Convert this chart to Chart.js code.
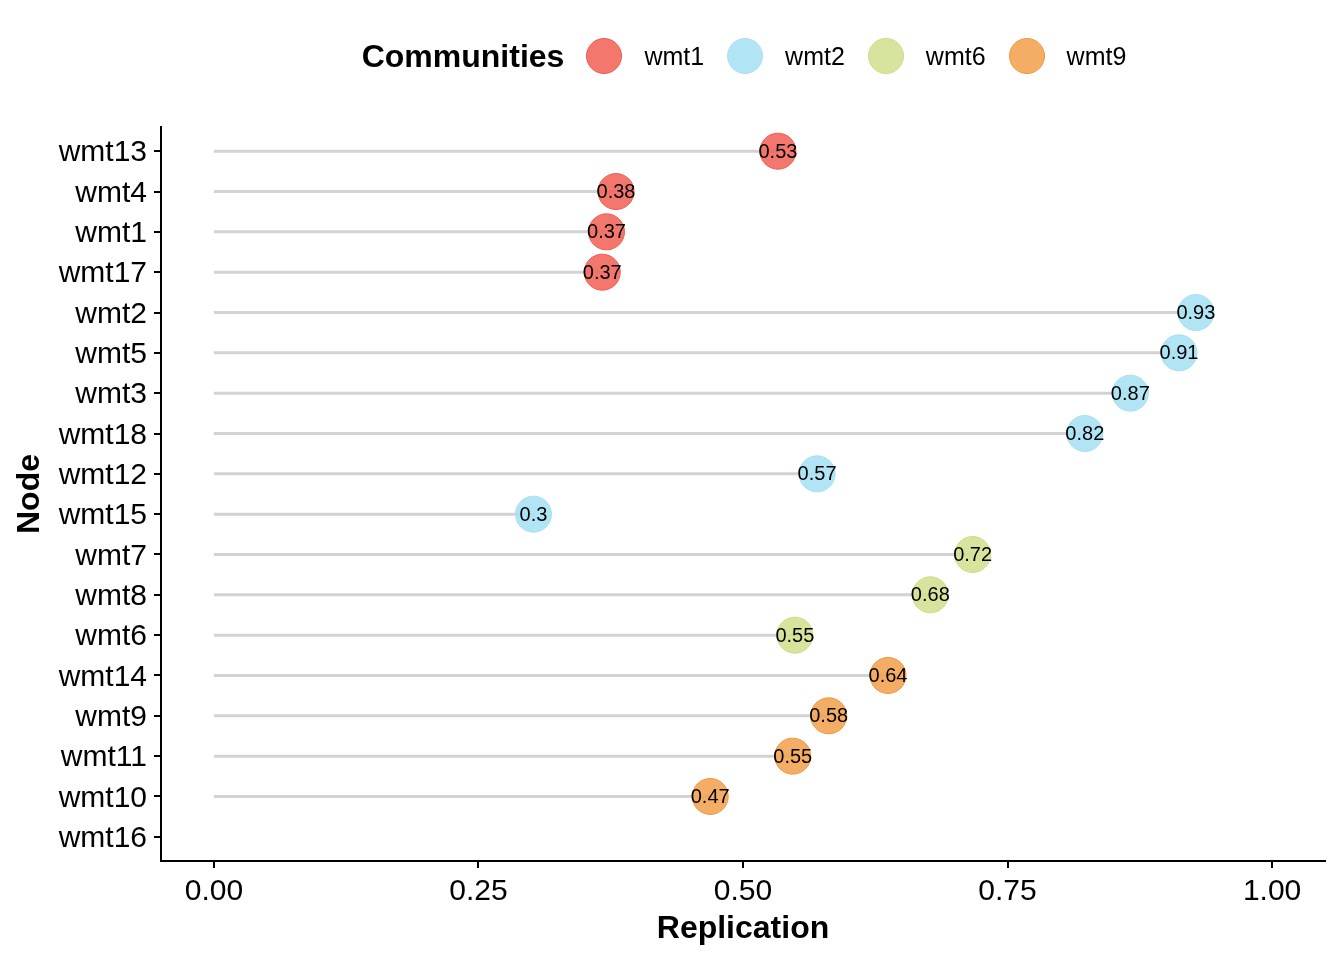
<!DOCTYPE html>
<html>
<head>
<meta charset="utf-8">
<script src="https://cdn.jsdelivr.net/npm/chart.js@4.4.1/dist/chart.umd.min.js"></script>
<style>
    body { margin: 0; background: #fff; }
    #wrap { position: relative; width: 1344px; height: 960px; }
    #legenda {
        position: absolute; top: 36px; left: 161px; width: 1166px; height: 40px;
        display: flex; align-items: center; justify-content: center;
        font-family: "Liberation Sans", Arial, sans-serif; color: #000;
    }
    #legenda .titulo { font-weight: bold; font-size: 32px; margin-right: 22px; }
    #legenda .bola { width: 36px; height: 36px; border-radius: 50%; box-sizing: border-box; border: 1px solid; }
    #legenda .nome { font-size: 25px; margin-left: 22px; margin-right: 23px; }
    #legenda .nome:last-child { margin-right: 0; }
</style>
</head>
<body>
<div id="wrap">
    <div id="legenda"></div>
    <canvas id="lollipop" width="1344" height="960"></canvas>
</div>
<script>
// dados
const nodes = ['wmt13', 'wmt4', 'wmt1', 'wmt17', 'wmt2', 'wmt5', 'wmt3', 'wmt18', 'wmt12',
    'wmt15', 'wmt7', 'wmt8', 'wmt6', 'wmt14', 'wmt9', 'wmt11', 'wmt10', 'wmt16'];
const replication = [0.533, 0.380, 0.371, 0.367, 0.928, 0.912, 0.866, 0.823, 0.570,
    0.302, 0.717, 0.677, 0.549, 0.637, 0.581, 0.547, 0.469, null];
const community = ['wmt1', 'wmt1', 'wmt1', 'wmt1', 'wmt2', 'wmt2', 'wmt2', 'wmt2', 'wmt2',
    'wmt2', 'wmt6', 'wmt6', 'wmt6', 'wmt9', 'wmt9', 'wmt9', 'wmt9', null];
const communities = ['wmt1', 'wmt2', 'wmt6', 'wmt9'];
const xTicks = [0, 0.25, 0.5, 0.75, 1];

const cores = {
    wmt1: { fill: 'rgba(242,100,90,0.88)', border: '#EF5A50' },
    wmt2: { fill: 'rgba(166,225,244,0.88)', border: '#A6DFF2' },
    wmt6: { fill: 'rgba(210,224,144,0.88)', border: '#CCDB88' },
    wmt9: { fill: 'rgba(242,162,78,0.88)', border: '#F0973A' }
};

const fonte = '"Liberation Sans", Arial, sans-serif';

// legenda em html
const legenda = document.getElementById('legenda');
let html = '<span class="titulo">Communities</span>';
communities.forEach(c => {
    html += `<span class="bola" style="background:${cores[c].fill};border-color:${cores[c].border}"></span>`;
    html += `<span class="nome">${c}</span>`;
});
legenda.innerHTML = html;

const datasets = [];

// hastes cinzas
nodes.forEach((n, i) => {
    if (replication[i] === null) return;
    datasets.push({
        label: 'linha-' + n,
        data: [{ x: 0, y: i }, { x: replication[i], y: i }],
        showLine: true,
        borderColor: '#D3D3D3',
        borderWidth: 3,
        pointRadius: 0,
        pointHoverRadius: 0,
        order: 1
    });
});

// pontos por comunidade
communities.forEach(c => {
    const pts = [];
    nodes.forEach((n, i) => {
        if (community[i] === c && replication[i] !== null) {
            pts.push({ x: replication[i], y: i });
        }
    });
    datasets.push({
        label: c,
        data: pts,
        backgroundColor: cores[c].fill,
        borderColor: cores[c].border,
        borderWidth: 1,
        pointRadius: 18,
        pointHoverRadius: 18,
        order: 0,
        rotulos: true
    });
});

const rotulosPlugin = {
    id: 'rotulos',
    afterDatasetsDraw(chart) {
        const ctx = chart.ctx;
        ctx.save();
        ctx.font = '20px ' + fonte;
        ctx.fillStyle = '#000';
        ctx.textAlign = 'center';
        ctx.textBaseline = 'middle';
        chart.data.datasets.forEach((ds, di) => {
            if (!ds.rotulos) return;
            chart.getDatasetMeta(di).data.forEach((el, k) => {
                const v = Math.round(ds.data[k].x * 100) / 100;
                ctx.fillText(String(v), el.x, el.y + 1);
            });
        });
        ctx.restore();
    }
};

new Chart(document.getElementById('lollipop').getContext('2d'), {
    type: 'scatter',
    data: { datasets: datasets },
    plugins: [rotulosPlugin],
    options: {
        responsive: false,
        animation: false,
        events: [],
        layout: { padding: { top: 127, right: 14, left: 0, bottom: 0 } },
        plugins: {
            legend: { display: false },
            tooltip: { enabled: false }
        },
        scales: {
            x: {
                type: 'linear',
                min: -0.05,
                max: 1.05,
                afterBuildTicks: scale => { scale.ticks = xTicks.map(v => ({ value: v })); },
                afterFit: scale => { scale.height = 99; },
                ticks: {
                    autoSkip: false,
                    maxRotation: 0,
                    padding: 6,
                    color: '#000',
                    font: { family: fonte, size: 30 },
                    callback: v => Number(v).toFixed(2)
                },
                grid: { drawOnChartArea: false, drawTicks: true, tickLength: 7, color: '#000', lineWidth: 2 },
                border: { display: true, color: '#000', width: 2 },
                title: {
                    display: true,
                    text: 'Replication',
                    color: '#000',
                    font: { family: fonte, size: 32, weight: 'bold' },
                    padding: { top: 0, bottom: 12 }
                }
            },
            y: {
                type: 'linear',
                reverse: true,
                min: -0.6,
                max: 17.6,
                afterBuildTicks: scale => { scale.ticks = nodes.map((n, i) => ({ value: i })); },
                afterFit: scale => { scale.width = 161; },
                ticks: {
                    autoSkip: false,
                    padding: 7,
                    labelOffset: 2,
                    color: '#000',
                    font: { family: fonte, size: 30 },
                    callback: v => nodes[v]
                },
                grid: { drawOnChartArea: false, drawTicks: true, tickLength: 7, color: '#000', lineWidth: 2 },
                border: { display: true, color: '#000', width: 2 },
                title: {
                    display: true,
                    text: 'Node',
                    color: '#000',
                    font: { family: fonte, size: 32, weight: 'bold' },
                    padding: { top: 11, bottom: 11 }
                }
            }
        }
    }
});
</script>
</body>
</html>
